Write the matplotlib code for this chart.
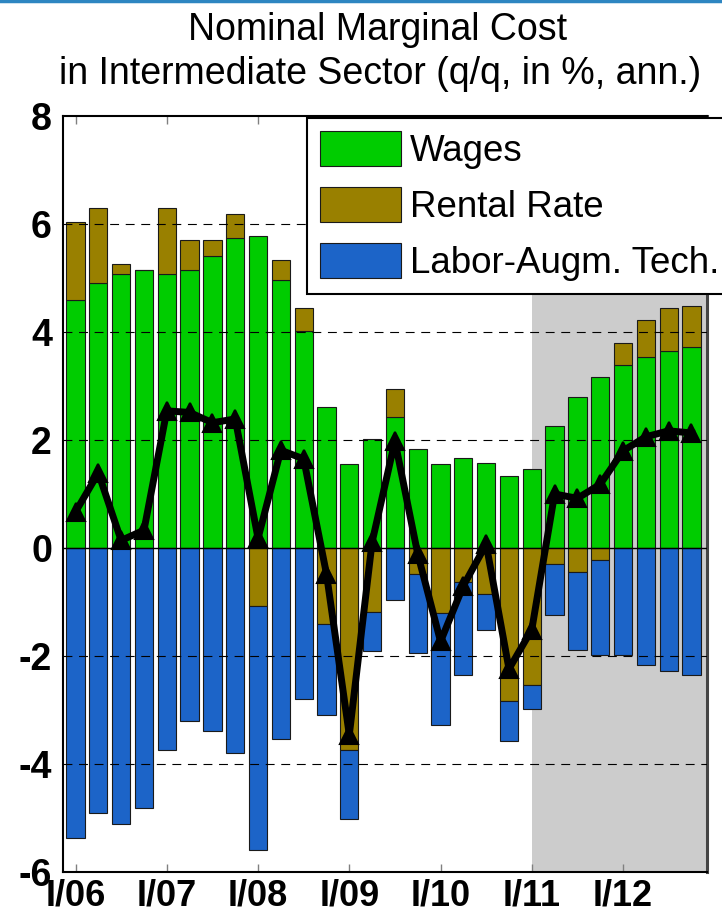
import numpy as np
import matplotlib
matplotlib.use("Agg")
import matplotlib.pyplot as plt
from matplotlib.lines import Line2D

plt.rcParams['font.family'] = ['Liberation Sans', 'DejaVu Sans']
plt.rcParams['axes.unicode_minus'] = False

# quarterly contributions, I/06 .. IV/12
tick_labels = ["I/06", "I/07", "I/08", "I/09", "I/10", "I/11", "I/12"]
wages = [4.60, 4.90, 5.08, 5.15, 5.08, 5.15, 5.41, 5.74, 5.78, 4.97, 4.01, 2.61, 1.55, 2.02,
         2.43, 1.84, 1.55, 1.66, 1.58, 1.33, 1.47, 2.25, 2.80, 3.17, 3.39, 3.53, 3.64, 3.72]
rental = [1.44, 1.39, 0.18, 0.00, 1.21, 0.56, 0.30, 0.44, -1.07, 0.37, 0.44, -1.40, -3.75, -1.18,
          0.51, -0.48, -1.21, -0.63, -0.85, -2.83, -2.54, -0.29, -0.44, -0.22, 0.40, 0.70, 0.81, 0.77]
tech = [-5.37, -4.90, -5.12, -4.82, -3.75, -3.20, -3.39, -3.79, -4.53, -3.53, -2.80, -1.69, -1.26, -0.73,
        -0.96, -1.47, -2.07, -1.73, -0.66, -0.74, -0.44, -0.96, -1.44, -1.77, -1.99, -2.17, -2.28, -2.36]
forecast_start = 20  # I/11

wages = np.array(wages)
rental = np.array(rental)
tech = np.array(tech)
total = wages + rental + tech
x = np.arange(len(wages))

c_wage = "#00cc00"
c_rent = "#998000"
c_tech = "#1c64c8"

fig = plt.figure(figsize=(7.22, 9.23), dpi=100)
ax = fig.add_axes([63 / 722, 1 - 872 / 923, 644 / 722, 756 / 923])

xmin, xmax = -0.55, 27.68
ax.axvspan(forecast_start, xmax + 1, color="#cccccc", zorder=0, lw=0)

bw = 0.8
ek = dict(edgecolor="#1a1a1a", linewidth=0.8, zorder=1)
ax.bar(x, wages, bw, color=c_wage, label="Wages", **ek)
rent_bottom = np.where(rental >= 0, wages, 0)
ax.bar(x, rental, bw, bottom=rent_bottom, color=c_rent, label="Rental Rate", **ek)
ax.bar(x, tech, bw, bottom=np.minimum(rental, 0), color=c_tech, label="Labor-Augm. Tech.", **ek)

ax.plot(x, total, color="black", lw=5, marker="^", ms=13, mew=1.5, zorder=5)

# dashed grid over bars, solid zero line
for yv in [-4, -2, 2, 4, 6]:
    ax.axhline(yv, color="black", lw=0.8, ls=(0, (8, 6)), zorder=3)
ax.axhline(0, color="black", lw=1.0, zorder=4)

ax.set_xlim(xmin, xmax)
ax.set_ylim(-6, 8)
ax.set_xticks(x[::4])
ax.set_xticklabels(tick_labels)
ax.set_yticks(np.arange(-6, 9, 2))
ax.tick_params(axis="x", direction="in", top=True, length=6, width=1, color="#808080",
               pad=5, labelsize=26)
ax.tick_params(axis="y", length=0, pad=8, labelsize=27)
for lab in ax.get_xticklabels() + ax.get_yticklabels():
    lab.set_fontweight("bold")

for s in ["left", "bottom", "top"]:
    ax.spines[s].set_linewidth(1.5)
    ax.spines[s].set_color("black")
ax.spines["right"].set_linewidth(2.2)
ax.spines["right"].set_color("#444444")

leg = fig.legend(loc="upper left", bbox_to_anchor=(307 / 722, 1 - 118 / 923),
                 fontsize=26.5, handlelength=2.2, handleheight=1.1, handletextpad=0.25,
                 labelspacing=0.48, borderpad=0.35, borderaxespad=0, fancybox=False,
                 framealpha=1, edgecolor="black")
leg.get_frame().set_linewidth(1.5)

fig.text(378 / 722, 1 - 40 / 923, "Nominal Marginal Cost", ha="center", va="baseline", fontsize=27)
fig.text(380 / 722, 1 - 84 / 923, "in Intermediate Sector (q/q, in %, ann.)", ha="center",
         va="baseline", fontsize=27)

# slide border at the very top
fig.add_artist(Line2D([0, 1], [1 - 1 / 923, 1 - 1 / 923], color="#2e86c1", lw=2.5,
                      transform=fig.transFigure))

fig.savefig("out.png", dpi=100)
